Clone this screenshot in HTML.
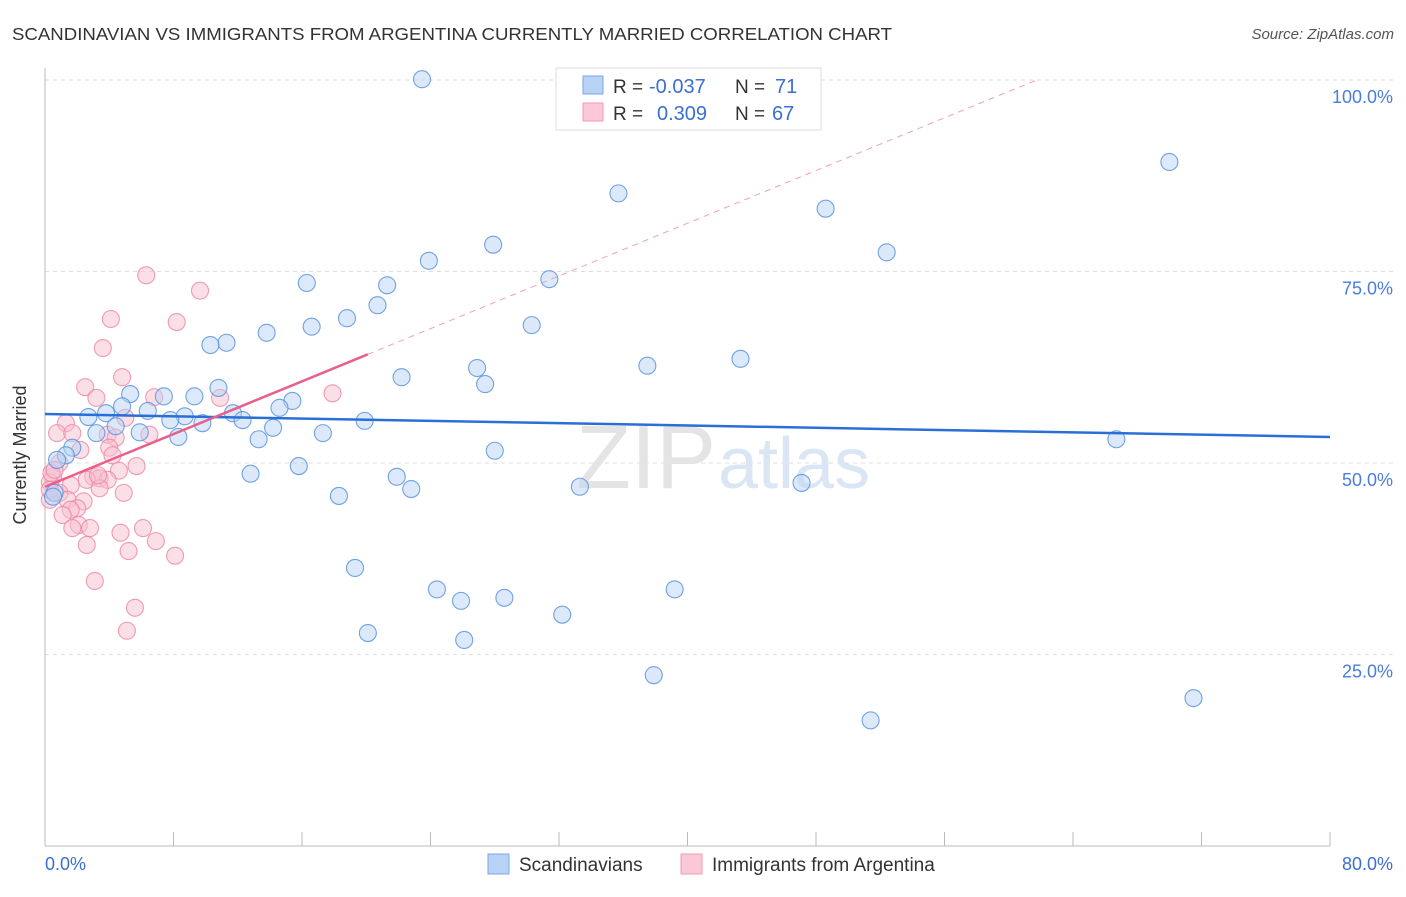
<!DOCTYPE html>
<html><head><meta charset="utf-8"><style>
body{margin:0;background:#fff;font-family:"Liberation Sans",sans-serif}
svg text{font-family:"Liberation Sans",sans-serif}
</style></head><body>
<svg width="1406" height="892" viewBox="0 0 1406 892" xmlns="http://www.w3.org/2000/svg">
<text x="12" y="40" font-size="17.5" fill="#333" textLength="880" lengthAdjust="spacingAndGlyphs">SCANDINAVIAN VS IMMIGRANTS FROM ARGENTINA CURRENTLY MARRIED CORRELATION CHART</text>
<text x="1394" y="39" font-size="15" fill="#555" font-style="italic" text-anchor="end">Source: ZipAtlas.com</text>
<g id="grid"></g>
<text x="716" y="488" font-size="90" fill="#e4e4e4" text-anchor="end" font-family="Liberation Serif">ZIP</text>
<text x="718" y="488" font-size="72" fill="#dbe6f5">atlas</text>
<g id="axes"></g>
<g id="pts"></g>
<g id="trends"></g>
<text x="26" y="455" font-size="18" fill="#333" text-anchor="middle" transform="rotate(-90 26 455)">Currently Married</text>
<text x="45" y="870" font-size="18" fill="#3b6fd4">0.0%</text>
<text x="1393" y="870" font-size="18" fill="#3b6fd4" text-anchor="end">80.0%</text>
<g>
<rect x="556" y="68" width="265" height="62" fill="#fff" stroke="#ddd"/>
<rect x="583" y="76" width="20" height="18" fill="#b8d3f5" stroke="#7aa6e6"/>
<rect x="583" y="103" width="20" height="18" fill="#fbc8d7" stroke="#f09ab3"/>
<text x="613" y="93" font-size="19" fill="#333">R = </text><text x="649" y="93" font-size="20" fill="#3b6fd4">-0.037</text>
<text x="735" y="93" font-size="19" fill="#333">N = </text><text x="775" y="93" font-size="20" fill="#3b6fd4">71</text>
<text x="613" y="120" font-size="19" fill="#333">R = </text><text x="657" y="120" font-size="20" fill="#3b6fd4">0.309</text>
<text x="735" y="120" font-size="19" fill="#333">N = </text><text x="772" y="120" font-size="20" fill="#3b6fd4">67</text>
</g>
<g>
<rect x="488" y="854" width="21" height="20" fill="#b8d3f5" stroke="#7aa6e6"/>
<text x="519" y="871" font-size="19" fill="#333">Scandinavians</text>
<rect x="681" y="854" width="21" height="20" fill="#fbc8d7" stroke="#f09ab3"/>
<text x="712" y="871" font-size="19" fill="#333">Immigrants from Argentina</text>
</g>
</svg>
<script>
const blueX=[23.47,70.0,35.7,48.6,27.9,52.4,23.9,16.3,31.4,21.3,20.7,18.8,16.6,30.3,13.8,11.3,10.3,43.3,37.5,26.9,22.2,27.4,10.8,5.3,7.4,9.3,15.4,4.8,14.6,6.4,3.8,2.7,8.7,11.7,7.8,12.3,19.9,9.8,4.4,14.2,5.9,3.2,17.3,8.3,13.3,66.7,28.0,1.7,1.3,0.75,15.8,12.8,21.9,47.1,33.3,22.8,18.3,0.6,0.5,19.3,24.4,39.2,25.9,28.6,32.2,20.1,26.1,37.9,71.5,51.4];
const blueY=[100.1,89.3,85.2,83.2,78.5,77.5,76.4,73.5,74.0,73.2,70.6,68.9,67.8,68.0,67.0,65.7,65.4,63.6,62.7,62.4,61.2,60.3,59.8,59.0,58.7,58.7,58.1,57.4,57.2,56.8,56.5,56.0,56.1,56.5,55.6,55.6,55.5,55.2,54.8,54.6,54.0,53.9,53.9,53.4,53.1,53.1,51.6,52.0,51.0,50.4,49.6,48.6,48.2,47.4,46.9,46.6,45.7,46.1,45.6,36.3,33.5,33.5,32.0,32.4,30.2,27.8,26.9,22.3,19.3,16.4];
const pinkX=[6.3,9.65,4.1,8.2,3.6,4.8,2.5,3.2,6.8,10.9,17.9,5.0,1.3,0.75,1.7,3.9,4.4,6.5,2.2,4.0,4.2,0.9,5.7,4.6,0.5,3.0,3.4,3.9,2.6,0.3,1.6,3.4,4.9,0.9,1.4,2.4,0.3,2.0,1.6,1.1,2.1,2.8,6.1,4.7,1.7,2.6,6.9,5.2,8.1,3.1,5.6,5.1,0.4,0.6,3.3,0.3];
const pinkY=[74.5,72.5,68.8,68.4,65.0,61.2,59.9,58.5,58.6,58.5,59.1,55.9,55.2,53.9,53.9,53.7,53.3,53.7,51.7,52.0,51.0,50.0,49.6,49.0,48.2,48.2,48.0,47.8,47.8,47.5,47.1,46.7,46.1,46.1,45.2,45.0,45.2,44.1,43.9,43.2,41.9,41.5,41.5,40.9,41.5,39.3,39.8,38.5,37.9,34.6,31.1,28.1,48.7,49.1,48.4,46.5];
const blueTrend=[56.4,53.4];
const pinkTrend=[46.9,0.86];
const yTicks=[25,50,75,100];
const xTicks=[0,8,16,24,32,40,48,56,64,72,80];
const X0=45,X1=1330,Y0=846,Y100=80;
const sx=v=>X0+(X1-X0)*v/80, sy=v=>Y0-(Y0-Y100)*v/100;
const NS='http://www.w3.org/2000/svg';
function mk(t,a,p){const e=document.createElementNS(NS,t);for(const k in a)e.setAttribute(k,a[k]);p.appendChild(e);return e;}
const grid=document.getElementById('grid'),axes=document.getElementById('axes'),pts=document.getElementById('pts'),tr=document.getElementById('trends');
yTicks.forEach(v=>{const l=mk('line',{x1:X0,x2:1393,y1:sy(v),y2:sy(v),stroke:'#ddd','stroke-dasharray':'4,4'},grid);


const t=mk('text',{x:1393,y:sy(v)+23,'font-size':18,fill:'#4a7ddb','text-anchor':'end'},grid);t.textContent=v.toFixed(1)+'%';

});
mk('line',{x1:X0,x2:X0,y1:68,y2:Y0,stroke:'#bbb'},axes);
mk('line',{x1:X0,x2:X1,y1:Y0,y2:Y0,stroke:'#bbb'},axes);
xTicks.forEach(v=>{const l=mk('line',{x1:sx(v),x2:sx(v),y1:Y0-14,y2:Y0,stroke:'#bbb'},axes);

});
function dots(xs,ys,fill,stroke,name){xs.forEach((x,i)=>{const c=mk('circle',{cx:sx(x),cy:sy(ys[i]),r:8.5,fill:fill,'fill-opacity':0.5,stroke:stroke,'stroke-width':1.1,'stroke-opacity':0.85},pts);

});}
dots(pinkX,pinkY,'#f8bfd0','#ee8aa8','point-argentina');
dots(blueX,blueY,'#b8d3f5','#5b93de','point-scandinavian');
const b=mk('line',{x1:sx(0),y1:sy(blueTrend[0]),x2:sx(80),y2:sy(blueTrend[1]),stroke:'#2a6fd6','stroke-width':2.5},tr);


const pe=20.1,pd=(100-pinkTrend[0])/pinkTrend[1];
const p=mk('line',{x1:sx(0),y1:sy(pinkTrend[0]),x2:sx(pe),y2:sy(pinkTrend[0]+pinkTrend[1]*pe),stroke:'#e8608b','stroke-width':2.5},tr);


const pd2=mk('line',{x1:sx(pe),y1:sy(pinkTrend[0]+pinkTrend[1]*pe),x2:sx(pd),y2:sy(100),stroke:'#eea0b8','stroke-width':1,'stroke-dasharray':'6,5'},tr);


</script>
</body></html>
